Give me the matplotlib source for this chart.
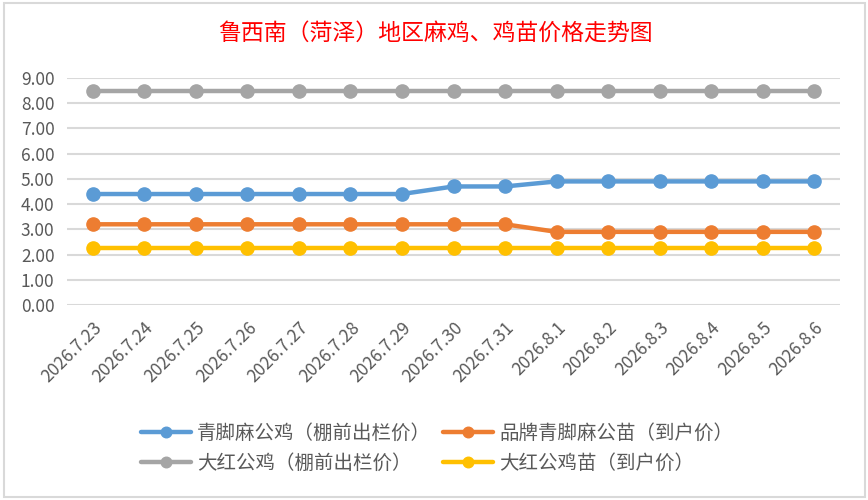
import numpy as np
import matplotlib.pyplot as plt
from matplotlib.patches import Rectangle

plt.rcParams['font.family'] = ['Noto Sans CJK SC', 'DejaVu Sans']

# data
dates = ["2026.7.23", "2026.7.24", "2026.7.25", "2026.7.26", "2026.7.27",
         "2026.7.28", "2026.7.29", "2026.7.30", "2026.7.31", "2026.8.1",
         "2026.8.2", "2026.8.3", "2026.8.4", "2026.8.5", "2026.8.6"]
qingjiao_gongji = [4.4, 4.4, 4.4, 4.4, 4.4, 4.4, 4.4, 4.7, 4.7, 4.9, 4.9, 4.9, 4.9, 4.9, 4.9]
pinpai_miao = [3.2, 3.2, 3.2, 3.2, 3.2, 3.2, 3.2, 3.2, 3.2, 2.9, 2.9, 2.9, 2.9, 2.9, 2.9]
dahong_gongji = [8.5] * 15
dahong_miao = [2.25] * 15
names = ["青脚麻公鸡（棚前出栏价）", "品牌青脚麻公苗（到户价）",
         "大红公鸡（棚前出栏价）", "大红公鸡苗（到户价）"]
yticks = [0, 1, 2, 3, 4, 5, 6, 7, 8, 9]

fig = plt.figure(figsize=(8.68, 5.0), dpi=100)
fig.patches.append(Rectangle((4/868, 3/500), 861/868, 494/500, transform=fig.transFigure,
                             fill=False, edgecolor="#d9d9d9", linewidth=1.5))
ax = fig.add_axes([67/868, 1-305/500, 773/868, 227/500])

x = np.arange(len(dates))
series = [qingjiao_gongji, pinpai_miao, dahong_gongji, dahong_miao]
colors = ["#5b9bd5", "#ed7d31", "#a5a5a5", "#ffc000"]
lines = []
for s, c, n in zip(series, colors, names):
    l, = ax.plot(x, s, color=c, lw=3.2, marker="o", ms=9.5, label=n, solid_capstyle="round")
    lines.append(l)

ax.set_xlim(-0.5, 14.5)
ax.set_ylim(0, 9)
ax.set_yticks(yticks)
ax.set_yticklabels(["%.2f" % v for v in yticks])
ax.set_xticks(x)
ax.set_xticklabels(dates, rotation=45, ha="right", rotation_mode="anchor")
ax.tick_params(length=0, labelsize=12.5, labelcolor="#595959")
ax.tick_params(axis="x", pad=10)
ax.tick_params(axis="y", pad=9)
ax.grid(axis="y", color="#d9d9d9", lw=1.5)
ax.set_axisbelow(True)
for sp in ax.spines.values():
    sp.set_visible(False)

fig.text(435/868, 1-33/500, "鲁西南（菏泽）地区麻鸡、鸡苗价格走势图", color="red",
         fontsize=16.5, ha="center", va="center")

# legend filled column-wise, so reorder to read row-wise like the original
order = [0, 2, 1, 3]
fig.legend([lines[i] for i in order], [names[i] for i in order],
           loc="center", bbox_to_anchor=(437/868, 1-448/500), ncol=2, frameon=False,
           fontsize=14, labelcolor="#595959", handlelength=2.6, columnspacing=0.6,
           handletextpad=0.3, labelspacing=0.45, markerscale=0.8)

fig.savefig("out.png", dpi=100)
